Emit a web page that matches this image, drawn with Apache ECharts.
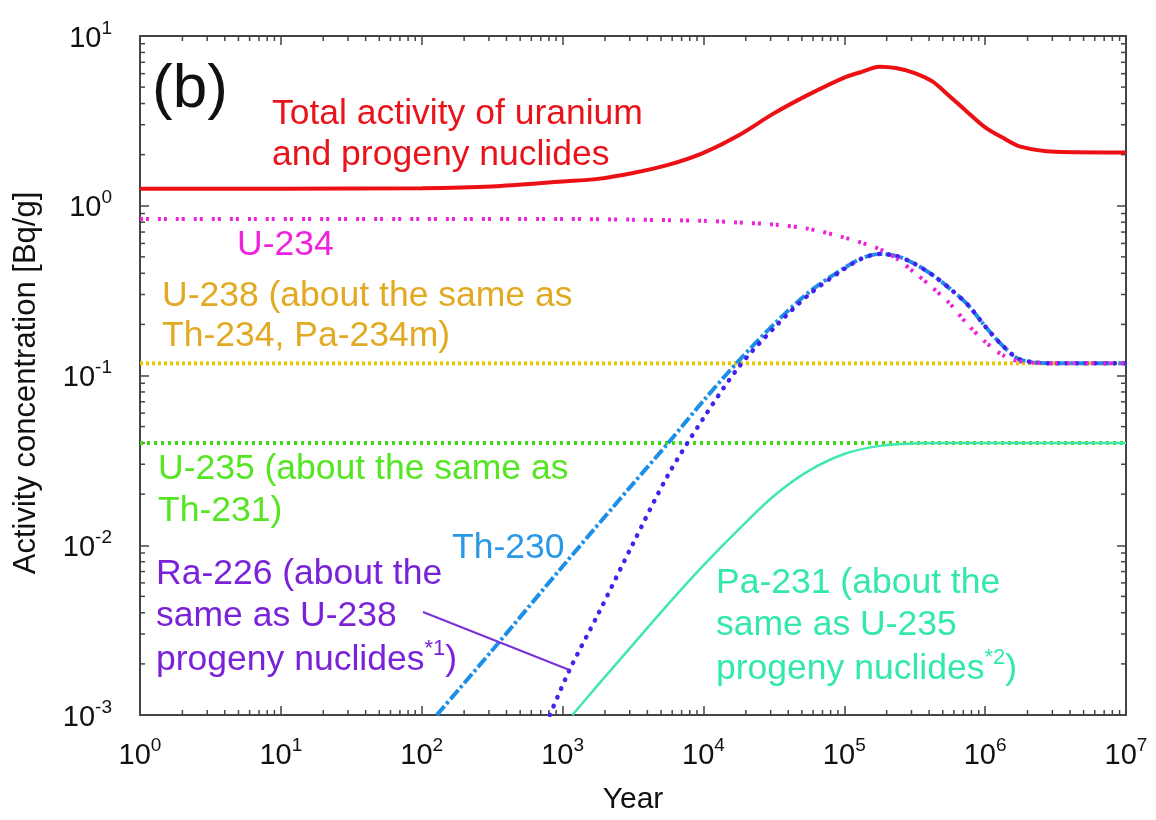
<!DOCTYPE html>
<html><head><meta charset="utf-8">
<script src="https://cdn.jsdelivr.net/npm/echarts@6/dist/echarts.min.js"></script>
<style>html,body{margin:0;padding:0;background:#fff}#c{width:1156px;height:820px}</style>
</head><body><div id="c"></div>
<script>
// ---- data ----
const xTickExponents = [0, 1, 2, 3, 4, 5, 6, 7];
const yTickExponents = [-3, -2, -1, 0, 1];

const totalYears = [1, 10, 100, 316, 1000, 1780, 3160, 5620, 1e4, 1.78e4, 3.16e4, 5.62e4, 1e5, 1.33e5, 1.78e5, 2.37e5, 3.16e5, 4.22e5, 5.62e5, 7.5e5, 1e6, 1.33e6, 1.78e6, 3.16e6, 1e7];
const totalVals  = [1.26, 1.26, 1.27, 1.30, 1.39, 1.44, 1.56, 1.74, 2.05, 2.6, 3.5, 4.53, 5.69, 6.15, 6.58, 6.45, 6.05, 5.4, 4.4, 3.56, 2.9, 2.52, 2.23, 2.08, 2.06];

const u234Years = [1, 100, 1000, 3160, 1e4, 1.78e4, 3.16e4, 5.62e4, 1e5, 1.33e5, 1.78e5, 2.37e5, 3.16e5, 4.22e5, 5.62e5, 7.5e5, 1e6, 1.33e6, 1.78e6, 3.16e6, 1e7];
const u234Vals  = [0.835, 0.835, 0.835, 0.828, 0.815, 0.797, 0.775, 0.73, 0.65, 0.605, 0.555, 0.487, 0.403, 0.33, 0.265, 0.20, 0.158, 0.132, 0.121, 0.118, 0.118];

const u238Years = [1, 1e7];
const u238Vals  = [0.118, 0.118];

const u235Years = [1, 1e7];
const u235Vals  = [0.040, 0.040];

const th230Years = [128, 316, 1000, 3160, 5620, 1e4, 1.78e4, 3.16e4, 5.62e4, 1e5, 1.33e5, 1.78e5, 2.37e5, 3.16e5, 4.22e5, 5.62e5, 7.5e5, 1e6, 1.33e6, 1.78e6, 3.16e6, 1e7];
const th230Vals  = [0.001, 0.0024, 0.0075, 0.023, 0.040, 0.071, 0.122, 0.20, 0.31, 0.43, 0.49, 0.52, 0.505, 0.455, 0.392, 0.325, 0.262, 0.195, 0.150, 0.124, 0.118, 0.118];

const ra226Years = [813, 1120, 1780, 3160, 5620, 1e4, 1.78e4, 3.16e4, 5.62e4, 1e5, 1.33e5, 1.78e5, 2.37e5, 3.16e5, 4.22e5, 5.62e5, 7.5e5, 1e6, 1.33e6, 1.78e6, 3.16e6, 1e7];
const ra226Vals  = [0.001, 0.00184, 0.0039, 0.0102, 0.026, 0.056, 0.112, 0.19, 0.30, 0.425, 0.488, 0.52, 0.505, 0.455, 0.392, 0.325, 0.262, 0.195, 0.150, 0.124, 0.118, 0.118];

const pa231Years = [1175, 1780, 3160, 5620, 1e4, 1.78e4, 3.16e4, 5.62e4, 1e5, 1.78e5, 3.16e5, 5.62e5, 1e7];
const pa231Vals  = [0.001, 0.0015, 0.0026, 0.0045, 0.0076, 0.0124, 0.0195, 0.0275, 0.0345, 0.0385, 0.0398, 0.040, 0.040];

const minorMultipliers = [2, 3, 4, 5, 6, 7, 8, 9];

// ---- helpers ----
const FONT = '"Liberation Sans", Arial, Helvetica, sans-serif';
const zip = (xs, ys) => xs.map((x, i) => [x, ys[i]]);
const minorX = [], minorY = [];
xTickExponents.slice(0, -1).forEach(e => minorMultipliers.forEach(m => minorX.push([m * Math.pow(10, e), 1])));
yTickExponents.slice(0, -1).forEach(e => minorMultipliers.forEach(m => minorY.push([10, m * Math.pow(10, e)])));

const AX = '#444';
const supLabel = v => '{b|10}{s|' + Math.round(Math.log10(v)) + '}';
const labelRich = {
  b: {fontFamily: FONT, fontSize: 29, color: '#111', lineHeight: 34, verticalAlign: 'bottom'},
  s: {fontFamily: FONT, fontSize: 19, color: '#111', lineHeight: 18, verticalAlign: 'top'}
};

function baseAxis(extra) {
  return Object.assign({
    type: 'log', logBase: 10,
    axisLine: {show: true, onZero: false, lineStyle: {color: AX, width: 2}},
    axisTick: {show: true, inside: true, length: 9, lineStyle: {color: AX, width: 1.5}},
    splitLine: {show: false},
    minorTick: {show: false}
  }, extra);
}

const xMin = Math.pow(10, xTickExponents[0]), xMax = Math.pow(10, xTickExponents[xTickExponents.length - 1]);
const yMin = Math.pow(10, yTickExponents[0]), yMax = Math.pow(10, yTickExponents[yTickExponents.length - 1]);

function minorRender(dir) {
  return function (params, api) {
    const cs = params.coordSys;
    const p = api.coord([api.value(0), api.value(1)]);
    const st = {stroke: AX, lineWidth: 1.5};
    if (dir === 'x') {
      const b = cs.y + cs.height, t = cs.y;
      return {type: 'group', children: [
        {type: 'line', shape: {x1: p[0], y1: b, x2: p[0], y2: b - 5}, style: st},
        {type: 'line', shape: {x1: p[0], y1: t, x2: p[0], y2: t + 5}, style: st}
      ]};
    } else {
      const l = cs.x, r = cs.x + cs.width;
      return {type: 'group', children: [
        {type: 'line', shape: {x1: l, y1: p[1], x2: l + 5, y2: p[1]}, style: st},
        {type: 'line', shape: {x1: r, y1: p[1], x2: r - 5, y2: p[1]}, style: st}
      ]};
    }
  };
}

const chart = echarts.init(document.getElementById('c'), null, {renderer: 'canvas'});
const SM = 0.3;
const option = {
  backgroundColor: '#fff',
  animation: false,
  grid: {left: 140, right: 30, top: 36, bottom: 98, containLabel: false},
  xAxis: [
    baseAxis({min: xMin, max: xMax, splitNumber: 7, position: 'bottom',
      axisLabel: {formatter: supLabel, rich: labelRich, margin: 21},
      name: 'Year', nameLocation: 'middle', nameGap: 70,
      nameTextStyle: {fontFamily: FONT, fontSize: 30, color: '#111'}}),
    baseAxis({min: xMin, max: xMax, splitNumber: 7, position: 'top', axisLabel: {show: false}})
  ],
  yAxis: [
    baseAxis({min: yMin, max: yMax, splitNumber: 4, position: 'left',
      axisLabel: {formatter: supLabel, rich: labelRich, margin: 28}}),
    baseAxis({min: yMin, max: yMax, splitNumber: 4, position: 'right', axisLabel: {show: false}})
  ],
  series: [
    {type: 'custom', name: 'minorX', data: minorX, renderItem: minorRender('x'), silent: true, z: 1},
    {type: 'custom', name: 'minorY', data: minorY, renderItem: minorRender('y'), silent: true, z: 1},
    {type: 'line', name: 'U-238', data: zip(u238Years, u238Vals), showSymbol: false, z: 2,
      lineStyle: {color: '#E8C800', width: 4, type: [3, 3]}},
    {type: 'line', name: 'U-235', data: zip(u235Years, u235Vals), showSymbol: false, z: 2,
      lineStyle: {color: '#3CDC10', width: 4, type: [3, 4]}},
    {type: 'line', name: 'Pa-231', data: zip(pa231Years, pa231Vals), showSymbol: false, smooth: SM, z: 3,
      lineStyle: {color: '#40E8B0', width: 2.5}},
    {type: 'line', name: 'Th-230', data: zip(th230Years, th230Vals), showSymbol: false, smooth: SM, z: 3,
      lineStyle: {color: '#1C8FE8', width: 4, type: [12, 3, 3, 3]}},
    {type: 'line', name: 'Ra-226', data: zip(ra226Years, ra226Vals), showSymbol: false, smooth: SM, z: 4,
      lineStyle: {color: '#4422EE', width: 4.5, type: [0.5, 9], cap: 'round'}},
    {type: 'line', name: 'U-234', data: zip(u234Years, u234Vals), showSymbol: false, smooth: SM, z: 5,
      lineStyle: {color: '#EE22DD', width: 4, type: [3, 3, 3, 9]}},
    {type: 'line', name: 'Total', data: zip(totalYears, totalVals), showSymbol: false, smooth: SM, z: 6,
      lineStyle: {color: '#EC1014', width: 4}}
  ]
};
chart.setOption(option);

// ---- annotations ----
const FS = 35.5;
function txt(x, y, text, color, size, rich) {
  return {type: 'text', x: x, y: y, z: 10,
    style: {text: text, fill: color, font: (size || FS) + 'px ' + FONT, textAlign: 'left', textVerticalAlign: 'middle', rich: rich}};
}
const supRich = c => ({
  n: {fontFamily: FONT, fontSize: FS, fill: c, color: c, lineHeight: 40, verticalAlign: 'bottom'},
  s: {fontFamily: FONT, fontSize: 22, fill: c, color: c, lineHeight: 22, verticalAlign: 'top'}
});
const RED = '#E8141C', MAG = '#EE22DD', GOLD = '#E2AA22', GRN = '#55E622', BLU = '#2A98E6', PUR = '#7A22D8', TEAL = '#33E8A8';
const end = chart.convertToPixel({xAxisIndex: 0, yAxisIndex: 0}, [ra226Years[1], ra226Vals[1]]);

chart.setOption({graphic: [
  txt(152, 90, '(b)', '#111', 62),
  txt(272, 114, 'Total activity of uranium', RED),
  txt(272, 155, 'and progeny nuclides', RED),
  txt(237, 245, 'U-234', MAG),
  txt(162, 296, 'U-238 (about the same as', GOLD),
  txt(162, 336, 'Th-234, Pa-234m)', GOLD),
  txt(158, 469, 'U-235 (about the same as', GRN),
  txt(158, 511, 'Th-231)', GRN),
  txt(452, 548, 'Th-230', BLU),
  txt(156, 574, 'Ra-226 (about the', PUR),
  txt(156, 616, 'same as U-238', PUR),
  txt(156, 658, '{n|progeny nuclides}{s|*1}{n|)}', PUR, FS, supRich(PUR)),
  txt(716, 583, 'Pa-231 (about the', TEAL),
  txt(716, 625, 'same as U-235', TEAL),
  txt(716, 667, '{n|progeny nuclides}{s|*2}{n|)}', TEAL, FS, supRich(TEAL)),
  {type: 'line', z: 10, shape: {x1: 423, y1: 612, x2: end[0], y2: end[1]}, style: {stroke: '#7A30D8', lineWidth: 2}},
  {type: 'text', x: 26, y: 383, rotation: Math.PI / 2, z: 10,
    style: {text: 'Activity concentration [Bq/g]', fill: '#111', font: '31px ' + FONT, textAlign: 'center', textVerticalAlign: 'middle'}}
]});
</script>
</body></html>
